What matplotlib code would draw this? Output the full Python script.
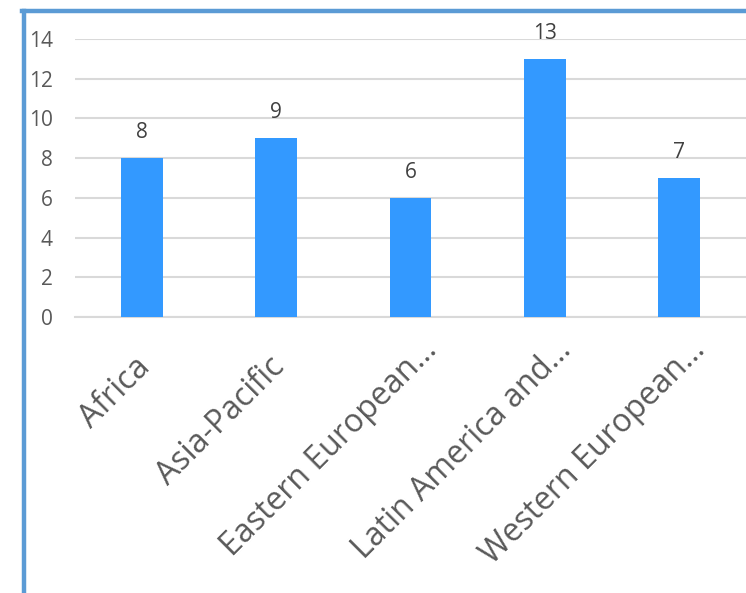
import matplotlib
matplotlib.use('Agg')

import matplotlib.pyplot as plt
import matplotlib.transforms as mtransforms
from matplotlib.lines import Line2D

# Datos
regiones = ['Africa', 'Asia-Pacific', 'Eastern European\u2026',
            'Latin America and\u2026', 'Western European\u2026']
valores = [8, 9, 6, 13, 7]
y_ticks = [0, 2, 4, 6, 8, 10, 12, 14]

plt.rcParams['font.family'] = ['Open Sans', 'DejaVu Sans']

fig = plt.figure(figsize=(7.46, 5.93), dpi=100)
ax = fig.add_axes([75 / 746, 276 / 593, 671 / 746, 278 / 593])

x = list(range(len(regiones)))
barras = ax.bar(x, valores, width=0.31, color='#3399FF', zorder=3)
ax.bar_label(barras, padding=11, fontsize=15, color='#404040')

ax.set_xlim(-0.5, len(regiones) - 0.5)
ax.set_ylim(0, 14)
ax.set_yticks(y_ticks)
ax.set_yticklabels([str(v) for v in y_ticks], fontsize=15, color='#595959')
ax.yaxis.grid(True, color='#D9D9D9', linewidth=1.5, zorder=0)
ax.tick_params(axis='y', length=0, pad=16)
ax.tick_params(axis='x', length=0, pad=12)

ax.set_xticks(x)
ax.set_xticklabels(regiones, rotation=45, ha='right', rotation_mode='anchor',
                   fontsize=23, color='#595959')
# las etiquetas completas (sin recortar) quedan un poco más abajo
for etiqueta in ax.get_xticklabels():
    if etiqueta.get_text().endswith('\u2026'):
        dx, dy = 10, 0
    else:
        dx, dy = -8, -17
    desplazar = mtransforms.ScaledTranslation(dx / 100, dy / 100, fig.dpi_scale_trans)
    etiqueta.set_transform(etiqueta.get_transform() + desplazar)

for lado in ['top', 'right', 'left']:
    ax.spines[lado].set_visible(False)
ax.spines['bottom'].set_color('#D9D9D9')
ax.spines['bottom'].set_linewidth(1.5)

# Borde del gráfico (recortado)
fig.add_artist(Line2D([24 / 746, 24 / 746], [0, 1 - 10.5 / 593],
                      color='#5B9BD5', linewidth=3.2, transform=fig.transFigure))
fig.add_artist(Line2D([22 / 746, 1], [1 - 10.5 / 593, 1 - 10.5 / 593],
                      color='#5B9BD5', linewidth=3.2, transform=fig.transFigure))

fig.savefig('out.png', dpi=100)
